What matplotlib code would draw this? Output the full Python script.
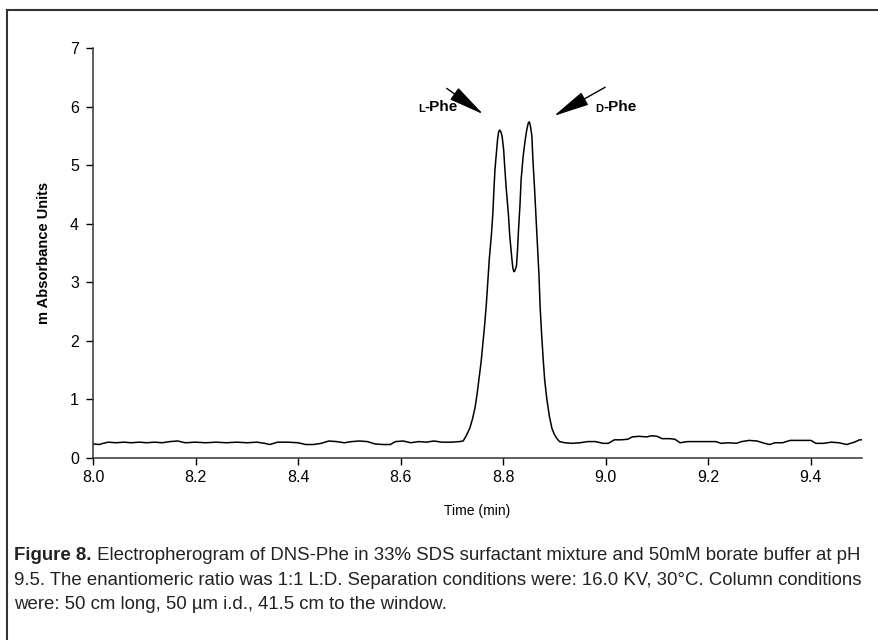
import matplotlib
matplotlib.use('Agg')
import matplotlib.pyplot as plt
from matplotlib.lines import Line2D

# electropherogram trace
time_min = [
    8.000, 8.012, 8.020, 8.030, 8.045, 8.060, 8.075, 8.090, 8.105, 8.120,
    8.135, 8.150, 8.165, 8.180, 8.200, 8.220, 8.240, 8.260, 8.280, 8.300,
    8.320, 8.335, 8.345, 8.360, 8.380, 8.400, 8.415, 8.430, 8.445, 8.460,
    8.475, 8.490, 8.505, 8.520, 8.535, 8.550, 8.565, 8.580, 8.590, 8.605,
    8.620, 8.635, 8.650, 8.665, 8.680, 8.700, 8.715,
    8.722, 8.728, 8.735, 8.740, 8.745, 8.749, 8.753, 8.757, 8.760, 8.764,
    8.767, 8.770, 8.773, 8.777, 8.780, 8.782, 8.784, 8.787, 8.789, 8.791,
    8.793, 8.796, 8.798, 8.801, 8.803, 8.806, 8.810, 8.813, 8.817, 8.819,
    8.821, 8.823, 8.826, 8.828, 8.830, 8.833, 8.835, 8.839, 8.843, 8.846,
    8.849, 8.851, 8.853, 8.856, 8.858, 8.861, 8.864, 8.867, 8.870, 8.872,
    8.875, 8.878, 8.881, 8.885, 8.890, 8.895, 8.900, 8.905, 8.910,
    8.920, 8.935, 8.950, 8.965, 8.980, 8.995, 9.005, 9.017, 9.030, 9.043,
    9.052, 9.065, 9.080, 9.090, 9.100, 9.110, 9.125, 9.135, 9.145, 9.160,
    9.180, 9.200, 9.215, 9.225, 9.240, 9.255, 9.265, 9.280, 9.295, 9.310,
    9.320, 9.330, 9.345, 9.360, 9.380, 9.400, 9.410, 9.425, 9.440, 9.455,
    9.470, 9.485, 9.495, 9.500,
]
m_absorbance = [
    0.24, 0.23, 0.25, 0.27, 0.26, 0.27, 0.26, 0.27, 0.26, 0.27,
    0.26, 0.28, 0.29, 0.26, 0.27, 0.26, 0.27, 0.26, 0.27, 0.26,
    0.27, 0.25, 0.23, 0.27, 0.27, 0.26, 0.23, 0.23, 0.25, 0.29,
    0.28, 0.26, 0.28, 0.29, 0.28, 0.24, 0.23, 0.23, 0.28, 0.29,
    0.26, 0.28, 0.27, 0.29, 0.27, 0.27, 0.28,
    0.29, 0.38, 0.51, 0.66, 0.85, 1.08, 1.36, 1.64, 1.92, 2.28,
    2.60, 3.00, 3.40, 3.80, 4.19, 4.58, 4.92, 5.22, 5.43, 5.56,
    5.60, 5.56, 5.49, 5.26, 4.98, 4.60, 4.19, 3.78, 3.40, 3.24,
    3.18, 3.20, 3.28, 3.55, 3.90, 4.35, 4.75, 5.15, 5.43, 5.60,
    5.72, 5.74, 5.68, 5.50, 5.10, 4.64, 4.12, 3.62, 3.10, 2.60,
    2.12, 1.70, 1.33, 1.02, 0.72, 0.51, 0.40, 0.33, 0.28,
    0.26, 0.25, 0.26, 0.28, 0.28, 0.25, 0.25, 0.31, 0.31, 0.32,
    0.36, 0.37, 0.36, 0.38, 0.37, 0.33, 0.33, 0.32, 0.26, 0.28,
    0.28, 0.28, 0.28, 0.25, 0.26, 0.25, 0.28, 0.30, 0.29, 0.25,
    0.23, 0.26, 0.26, 0.30, 0.30, 0.30, 0.25, 0.25, 0.27, 0.26,
    0.23, 0.27, 0.31, 0.31,
]

x_ticks = [8.0, 8.2, 8.4, 8.6, 8.8, 9.0, 9.2, 9.4]
y_ticks = [0, 1, 2, 3, 4, 5, 6, 7]

caption_bold = 'Figure 8.'
caption_lines = [
    ' Electropherogram of DNS-Phe in 33% SDS surfactant mixture and 50mM borate buffer at pH',
    '9.5. The enantiomeric ratio was 1:1 L:D. Separation conditions were: 16.0 KV, 30°C. Column conditions',
    'were: 50 cm long, 50 µm i.d., 41.5 cm to the window.',
]

plt.rcParams['font.family'] = ['Liberation Sans', 'DejaVu Sans']

fig = plt.figure(figsize=(8.79, 6.40), dpi=100)
ax = fig.add_axes([0.1058, 0.2844, 0.8749, 0.6406])

ax.plot(time_min, m_absorbance, color='black', lw=1.1)

ax.set_xlim(8.0, 9.5)
ax.set_ylim(0, 7)
ax.set_xticks(x_ticks)
ax.set_xticklabels(['{:.1f}'.format(t) for t in x_ticks])
ax.set_yticks(y_ticks)
ax.tick_params(direction='out', length=5, width=1, labelsize=11.5, colors='black')
ax.tick_params(axis='y', pad=5)
for s in ['top', 'right']:
    ax.spines[s].set_visible(False)
for s in ['left', 'bottom']:
    ax.spines[s].set_color('#333333')
    ax.spines[s].set_linewidth(1.1)

ax.set_xlabel('Time (min)', fontsize=10, labelpad=14)
ax.set_ylabel('m Absorbance Units', fontsize=10.5, fontweight='bold', labelpad=14)

# peak labels with small-caps L / D and arrows
arrow = dict(arrowstyle='-|>,head_length=1.6,head_width=0.32', color='black',
             lw=1.0, mutation_scale=14, shrinkA=0, shrinkB=0)
ax.annotate('', xy=(8.761, 5.87), xytext=(8.690, 6.31), arrowprops=arrow)
ax.annotate('', xy=(8.899, 5.84), xytext=(8.999, 6.33), arrowprops=arrow)

tl = ax.text(8.634, 5.90, 'L', fontsize=8, fontweight='bold', va='baseline')
ax.annotate('-Phe', xy=(1, 0), xycoords=tl, fontsize=11, fontweight='bold', va='bottom')
td = ax.text(8.979, 5.90, 'D', fontsize=8, fontweight='bold', va='baseline')
ax.annotate('-Phe', xy=(1, 0), xycoords=td, fontsize=11, fontweight='bold', va='bottom')

# caption, sized so the long line runs to the right margin
cap_size = 12.0
t1b = fig.text(0.016, 0.125, caption_bold, fontsize=cap_size, fontweight='bold',
               color='#222222', va='baseline')
t1 = fig.text(0.016, 0.125, caption_lines[0], fontsize=cap_size,
              color='#222222', va='baseline')
t2 = fig.text(0.016, 0.0859, caption_lines[1], fontsize=cap_size,
              color='#222222', va='baseline')
t3 = fig.text(0.016, 0.0484, caption_lines[2], fontsize=cap_size,
              color='#222222', va='baseline')
fig.canvas.draw()
r = fig.canvas.get_renderer()
w2 = t2.get_window_extent(r).width
cap_size = cap_size * 852.0 / w2
for t in (t1b, t1, t2, t3):
    t.set_fontsize(cap_size)
fig.canvas.draw()
bx = t1b.get_window_extent(r)
t1.set_x(bx.x1 / fig.bbox.width)

# frame around the figure (only top and left edges visible)
fig.add_artist(Line2D([7 / 879, 1.0], [1 - 9.5 / 640, 1 - 9.5 / 640],
                      transform=fig.transFigure, color='#333333', lw=1.5))
fig.add_artist(Line2D([7 / 879, 7 / 879], [0.0, 1 - 9.5 / 640],
                      transform=fig.transFigure, color='#333333', lw=1.5))

fig.savefig('out.png', dpi=100)
